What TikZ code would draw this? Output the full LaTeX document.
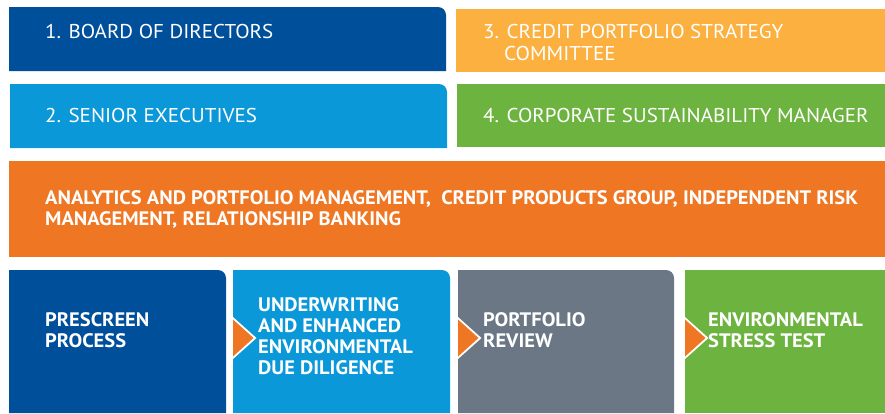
\documentclass[tikz,border=0pt]{standalone}
\usepackage{fontspec}
\setmainfont{PT Sans}[FakeStretch=1.05]
\definecolor{dblue}{RGB}{0,79,154}
\definecolor{lblue}{RGB}{10,152,216}
\definecolor{ygold}{RGB}{251,176,64}
\definecolor{lgreen}{RGB}{109,179,63}
\definecolor{borange}{RGB}{239,118,34}
\definecolor{sgray}{RGB}{107,119,133}
\newcommand\trbox[5]{\fill[#1] (#2,#3) -- ({#4-8},#3) .. controls ({#4-3.6},#3) and (#4,{#3+3.6}) .. (#4,{#3+8}) -- (#4,#5) -- (#2,#5) -- cycle;}
\newcommand\arrtri[2]{\fill[white] (#1,{#2-21}) -- ({#1+23.5},#2) -- (#1,{#2+21}) -- cycle;
  \fill[borange] (#1,{#2-18.5}) -- ({#1+20.5},#2) -- (#1,{#2+18.5}) -- cycle;}
\tikzset{
  toptxt/.style={anchor=base west,inner sep=0pt,text=white,align=left,font=\fontsize{20}{22}\selectfont},
  boldtxt/.style={anchor=base west,inner sep=0pt,text=white,align=left,font=\fontsize{19.5}{21}\selectfont\bfseries},
}
\begin{document}
\begin{tikzpicture}[x=1pt,y=-1pt]
\useasboundingbox[fill=white] (0,0) rectangle (885,413);
% top rows
\trbox{dblue}{9}{7}{446}{71}
\fill[ygold] (456,9) rectangle (885,72);
\trbox{lblue}{10}{84}{447}{148}
\fill[lgreen] (457,84) rectangle (885,147);
% band
\fill[borange] (9,161) rectangle (885,257);
% bottom row
\trbox{dblue}{9}{270}{226}{413}
\trbox{lblue}{233}{270}{450}{413}
\trbox{sgray}{458}{270}{674}{413}
\fill[lgreen] (685,270) rectangle (885,413);
% arrows
\arrtri{233}{338}
\arrtri{458}{338}
\arrtri{685}{338}
% texts
\node[toptxt] (bod) at (45,38) {1. BOARD OF DIRECTORS};
\node[toptxt] (cps) at (483,60) {3. CREDIT PORTFOLIO STRATEGY\\\hspace*{21pt}COMMITTEE};
\node[toptxt] (se) at (45,122) {2. SENIOR EXECUTIVES};
\node[toptxt] (csm) at (483,122) {4. CORPORATE SUSTAINABILITY MANAGER};
\node[boldtxt] (grp) at (45,225) {ANALYTICS AND PORTFOLIO MANAGEMENT,\ \ CREDIT PRODUCTS GROUP, INDEPENDENT RISK\\MANAGEMENT, RELATIONSHIP BANKING};
\node[boldtxt] (pre) at (45,347) {PRESCREEN\\PROCESS};
\node[boldtxt] (und) at (258,374) {UNDERWRITING\\AND ENHANCED\\ENVIRONMENTAL\\DUE DILIGENCE};
\node[boldtxt] (pr) at (483,347) {PORTFOLIO\\REVIEW};
\node[boldtxt] (est) at (708,347) {ENVIRONMENTAL\\STRESS TEST};
\end{tikzpicture}
\end{document}
